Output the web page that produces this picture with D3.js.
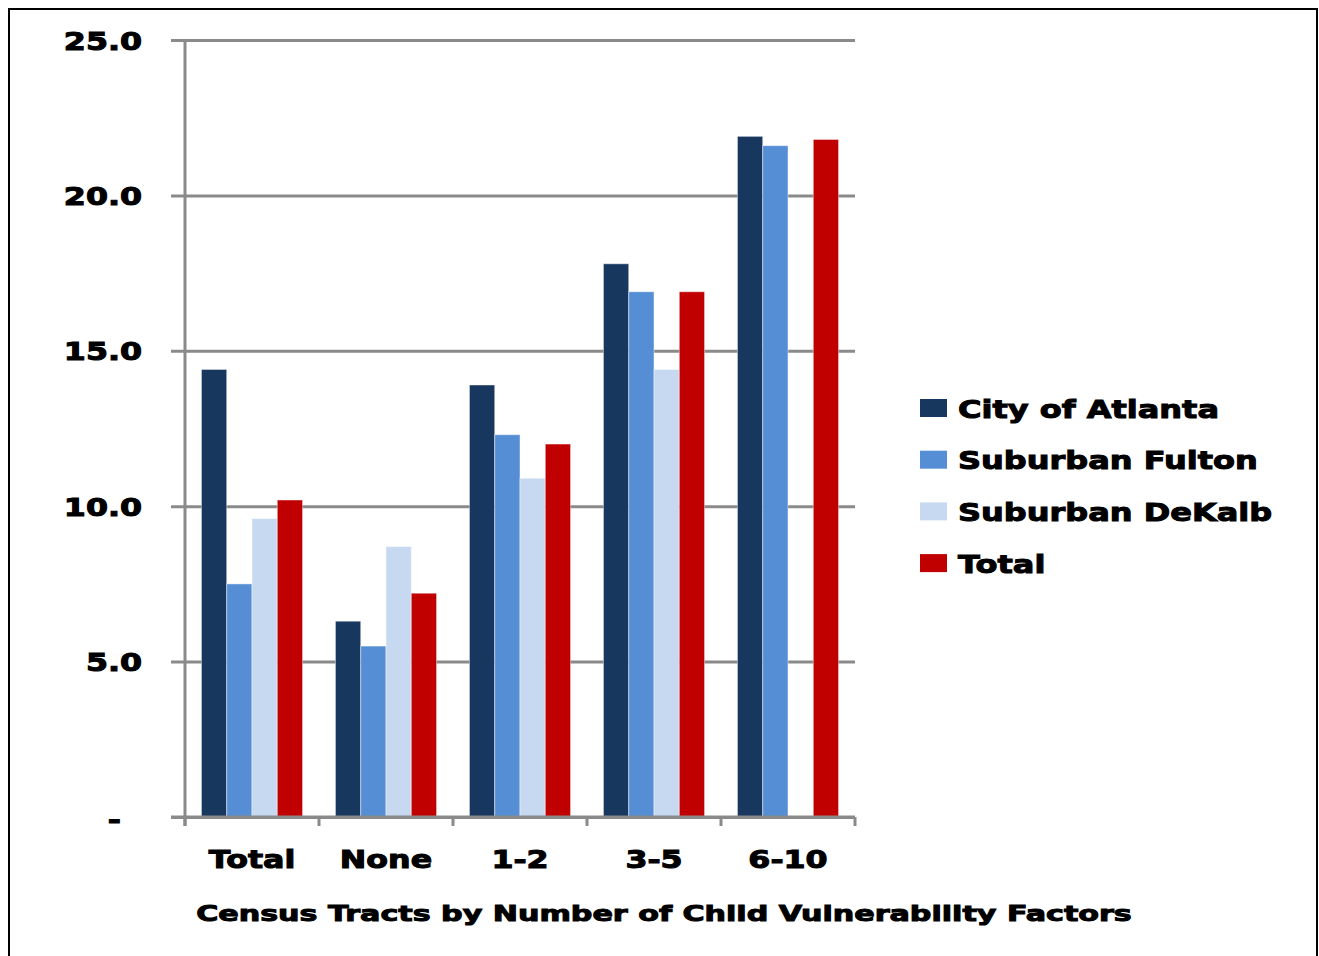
<!DOCTYPE html>
<html>
<head>
<meta charset="utf-8">
<script src="https://cdn.jsdelivr.net/npm/d3@7"></script>
<style>
  html, body { margin: 0; padding: 0; background: #fff; }
  svg { display: block; }
  text { font-family: "DejaVu Sans", Verdana, sans-serif; font-weight: bold; fill: #000; stroke: #000; stroke-width: 1px; }
</style>
</head>
<body>
<svg id="chart" width="1319" height="956"></svg>
<script>
// Share of census tracts, by number of child vulnerability factors
const categories = ["Total", "None", "1-2", "3-5", "6-10"];
const seriesNames = ["City of Atlanta", "Suburban Fulton", "Suburban DeKalb", "Total"];
const cityOfAtlanta = [14.4, 6.3, 13.9, 17.8, 21.9];
const suburbanFulton = [7.5, 5.5, 12.3, 16.9, 21.6];
const suburbanDeKalb = [9.6, 8.7, 10.9, 14.4, null];
const totalSeries = [10.2, 7.2, 12.0, 16.9, 21.8];
const yTicks = [0, 5, 10, 15, 20, 25];
const xTitle = "Census Tracts by Number of Child Vulnerability Factors";

const seriesValues = [cityOfAtlanta, suburbanFulton, suburbanDeKalb, totalSeries];
const colors = ["#17375E", "#558ED5", "#C6D9F1", "#C00000"];

const svg = d3.select("#chart");
// wide, heavy lettering: horizontal stretch per text role
const TICK_STRETCH = 1.32, TITLE_STRETCH = 1.37, LEGEND_STRETCH = 1.28;
const plot = { left: 185, right: 855, top: 40, bottom: 817 };
const gridColor = "#8a8a8a";

// outer frame
svg.append("rect")
  .attr("x", 9).attr("y", 9).attr("width", 1308).attr("height", 960)
  .attr("fill", "none").attr("stroke", "#000").attr("stroke-width", 2);

const y = d3.scaleLinear().domain([0, 25]).range([plot.bottom, plot.top]);
const x = d3.scaleBand().domain(categories).range([plot.left, plot.right]).padding(0);
const x1 = d3.scaleBand().domain(d3.range(seriesNames.length))
  .range([0, x.bandwidth()]).paddingInner(0).paddingOuter(0.65);

// y axis: gridlines span from the left tick stub to the right edge
const yAxis = d3.axisLeft(y)
  .tickValues(yTicks)
  .tickSize(plot.right - plot.left + 14)
  .tickPadding(29)
  .tickFormat(d => d === 0 ? "-" : d3.format(".1f")(d));

const gy = svg.append("g")
  .attr("transform", `translate(${plot.right},0)`)
  .call(yAxis);
gy.select(".domain").remove();
gy.selectAll(".tick line").attr("stroke", gridColor).attr("stroke-width", 3);
gy.selectAll(".tick text")
  .attr("font-size", 24)
  .attr("dy", null)
  .attr("dominant-baseline", "central")
  .each(function(d) {
    const t = d3.select(this);
    const tx = d === 0 ? -(plot.right - 121) : +t.attr("x");
    t.attr("x", 0).attr("transform", `translate(${tx},${d === 0 ? 2 : 1}) scale(${TICK_STRETCH},1)`);
  });

// vertical axis line
svg.append("line")
  .attr("x1", plot.left).attr("x2", plot.left)
  .attr("y1", plot.top).attr("y2", plot.bottom + 9)
  .attr("stroke", gridColor).attr("stroke-width", 3);

// bars
const groups = svg.append("g").selectAll("g")
  .data(categories)
  .join("g")
  .attr("transform", d => `translate(${x(d)},0)`);

groups.selectAll("rect")
  .data((c, ci) => seriesValues.map((vals, si) => ({ si, v: vals[ci] })).filter(d => d.v != null))
  .join("rect")
  .attr("x", d => x1(d.si))
  .attr("width", x1.bandwidth())
  .attr("y", d => y(d.v))
  .attr("height", d => y(0) - y(d.v))
  .attr("fill", d => colors[d.si])
  .attr("stroke", "rgba(255,255,255,0.45)")
  .attr("stroke-width", 1);

// baseline drawn on top of bars
svg.append("line")
  .attr("x1", plot.left - 14).attr("x2", plot.right)
  .attr("y1", y(0)).attr("y2", y(0))
  .attr("stroke", gridColor).attr("stroke-width", 3);

// category boundary ticks
const boundaries = categories.map(c => x(c)).concat([x.range()[1]]);
svg.append("g").selectAll("line")
  .data(boundaries)
  .join("line")
  .attr("x1", d => d).attr("x2", d => d)
  .attr("y1", y(0)).attr("y2", y(0) + 9)
  .attr("stroke", gridColor).attr("stroke-width", 3);

// category labels
const xAxis = d3.axisBottom(x).tickSize(0).tickPadding(0);
const gx = svg.append("g")
  .attr("transform", `translate(0,${plot.bottom})`)
  .call(xAxis);
gx.select(".domain").remove();
gx.selectAll(".tick text")
  .attr("font-size", 24)
  .attr("dy", null)
  .attr("y", 0)
  .attr("dominant-baseline", "central")
  .attr("transform", `translate(0,43) scale(${TICK_STRETCH},1)`);

// x axis title
svg.append("text")
  .attr("text-anchor", "middle")
  .attr("dominant-baseline", "central")
  .attr("font-size", 22)
  .attr("transform", `translate(664,913) scale(${TITLE_STRETCH},1)`)
  .text(xTitle);

// legend
const legend = svg.append("g").attr("transform", "translate(920,408)");
const items = legend.selectAll("g")
  .data(seriesNames)
  .join("g")
  .attr("transform", (d, i) => `translate(0,${i * 51.7})`);
items.append("rect")
  .attr("x", 0).attr("y", -9).attr("width", 27).attr("height", 18)
  .attr("fill", (d, i) => colors[i]);
items.append("text")
  .attr("dominant-baseline", "central")
  .attr("font-size", 25)
  .attr("transform", `translate(38,1) scale(${LEGEND_STRETCH},1)`)
  .text(d => d);
</script>
</body>
</html>
